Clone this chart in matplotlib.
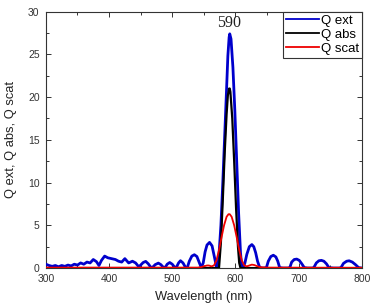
import numpy as np
import matplotlib
matplotlib.use('Agg')
import matplotlib.pyplot as plt
from matplotlib.ticker import MultipleLocator

# Q ext (blue)
ext_wl = [300, 305, 310, 315, 320, 325, 330, 335, 340, 345, 350, 355, 360, 365,
          370, 375, 380, 384, 388, 393, 398, 404, 410, 415, 420, 425, 431, 437,
          442, 447, 450, 454, 458, 462, 466, 469, 473, 478, 482, 486, 489, 492,
          496, 500, 504, 507, 510, 513, 517, 521, 524, 527, 531, 535, 539, 543,
          546, 549, 552, 555, 559, 563, 567, 570, 572, 574, 577, 580, 583, 586,
          588, 590, 591, 593, 596, 599, 602, 605, 608, 610, 612, 615, 618, 622,
          626, 629, 632, 635, 638, 641, 645, 649, 652, 656, 660, 664, 667, 670,
          675, 683, 686, 689, 693, 697, 701, 705, 709, 714, 721, 724, 728, 732,
          736, 740, 744, 748, 755, 764, 767, 771, 776, 780, 785, 790, 795, 800]
ext_q = [0.45, 0.3, 0.2, 0.3, 0.15, 0.3, 0.2, 0.35, 0.25, 0.45, 0.35, 0.6, 0.45, 0.7,
         0.6, 1.0, 0.75, 0.3, 0.9, 1.4, 1.2, 1.1, 1.0, 0.8, 0.7, 1.1, 0.6, 0.8,
         0.6, 0.15, 0.35, 0.65, 0.78, 0.5, 0.1, 0.1, 0.4, 0.58, 0.4, 0.08, 0.1, 0.45,
         0.65, 0.45, 0.08, 0.15, 0.6, 0.86, 0.6, 0.08, 0.1, 0.8, 1.4, 1.56, 1.35, 0.6,
         0.05, 0.6, 1.9, 2.7, 3.0, 2.6, 1.2, 0.1, 0.0, 1.6, 5.0, 10.0, 15.5, 21.0,
         24.8, 27.0, 27.4, 26.8, 23.5, 18.5, 12.5, 6.5, 1.8, 0.2, 0.0, 0.6, 1.6, 2.5,
         2.75, 2.5, 1.8, 0.8, 0.15, 0.0, 0.0, 0.05, 0.8, 1.35, 1.5, 1.3, 0.8, 0.05,
         0.0, 0.0, 0.05, 0.7, 1.0, 1.05, 0.9, 0.5, 0.05, 0.0, 0.0, 0.05, 0.6, 0.85,
         0.9, 0.8, 0.5, 0.05, 0.0, 0.0, 0.05, 0.55, 0.8, 0.85, 0.7, 0.4, 0.05, 0.0]

# Q abs (black)
abs_wl = [300, 560, 574, 577, 580, 583, 586, 588, 590, 591, 592, 595, 598, 601,
          604, 606, 608, 620, 800]
abs_q = [0.0, 0.0, 0.0, 3.0, 8.0, 13.5, 18.0, 20.2, 21.0, 21.0, 20.6, 17.5, 12.5,
         7.0, 2.5, 0.6, 0.0, 0.0, 0.0]

# Q scat (red)
scat_wl = [300, 540, 545, 550, 555, 558, 562, 566, 570, 574, 578, 582, 586, 589,
           591, 594, 598, 602, 606, 610, 614, 618, 622, 626, 630, 635, 640, 650,
           700, 800]
scat_q = [0.05, 0.05, 0.1, 0.2, 0.3, 0.3, 0.2, 0.3, 0.9, 2.1, 3.6, 5.0, 6.0, 6.3,
          6.3, 6.0, 5.0, 3.6, 2.1, 0.9, 0.3, 0.2, 0.3, 0.4, 0.35, 0.2, 0.1, 0.05,
          0.04, 0.03]

peak_wl = 590

plt.rcParams['font.family'] = ['Liberation Sans', 'DejaVu Sans']

fig = plt.figure(figsize=(3.73, 3.06), dpi=100)
ax = fig.add_axes([0.123, 0.124, 0.847, 0.838])

ax.plot(ext_wl, ext_q, color='#0000cc', lw=2.0, label='Q ext', zorder=3)
ax.plot(abs_wl, abs_q, color='black', lw=1.6, label='Q abs', zorder=4)
ax.plot(scat_wl, scat_q, color='#ee0000', lw=1.3, label='Q scat', zorder=5)

ax.text(peak_wl, 28.15, str(peak_wl), ha='center', va='baseline',
        family=['Liberation Serif', 'DejaVu Serif'], fontsize=11.5, color='#222222')

ax.set_xlim(300, 800)
ax.set_ylim(0, 30)
ax.xaxis.set_major_locator(MultipleLocator(100))
ax.xaxis.set_minor_locator(MultipleLocator(50))
ax.yaxis.set_major_locator(MultipleLocator(5))
ax.yaxis.set_minor_locator(MultipleLocator(2.5))
ax.tick_params(which='both', direction='in', top=True, right=True,
               labelsize=7.5, colors='#333333', width=0.7)
ax.tick_params(which='major', length=3.5)
ax.tick_params(which='minor', length=2)
ax.tick_params(axis='x', pad=4)
ax.tick_params(axis='y', pad=4.5)
for sp in ax.spines.values():
    sp.set_linewidth(0.8)
    sp.set_color('#333333')

ax.set_xlabel('Wavelength (nm)', fontsize=9.3, color='#222222', labelpad=5)
ax.set_ylabel('Q ext, Q abs, Q scat', fontsize=9.3, color='#222222', labelpad=8)

leg = ax.legend(loc='upper right', borderaxespad=0, fontsize=9.5,
                handlelength=2.5, handletextpad=0.15, labelspacing=0.15,
                borderpad=0.2, fancybox=False, framealpha=1)
leg.get_frame().set_edgecolor('#333333')
leg.get_frame().set_linewidth(0.8)
for h in leg.get_lines():
    h.set_linewidth(1.3)

fig.savefig('out.png', dpi=100)
